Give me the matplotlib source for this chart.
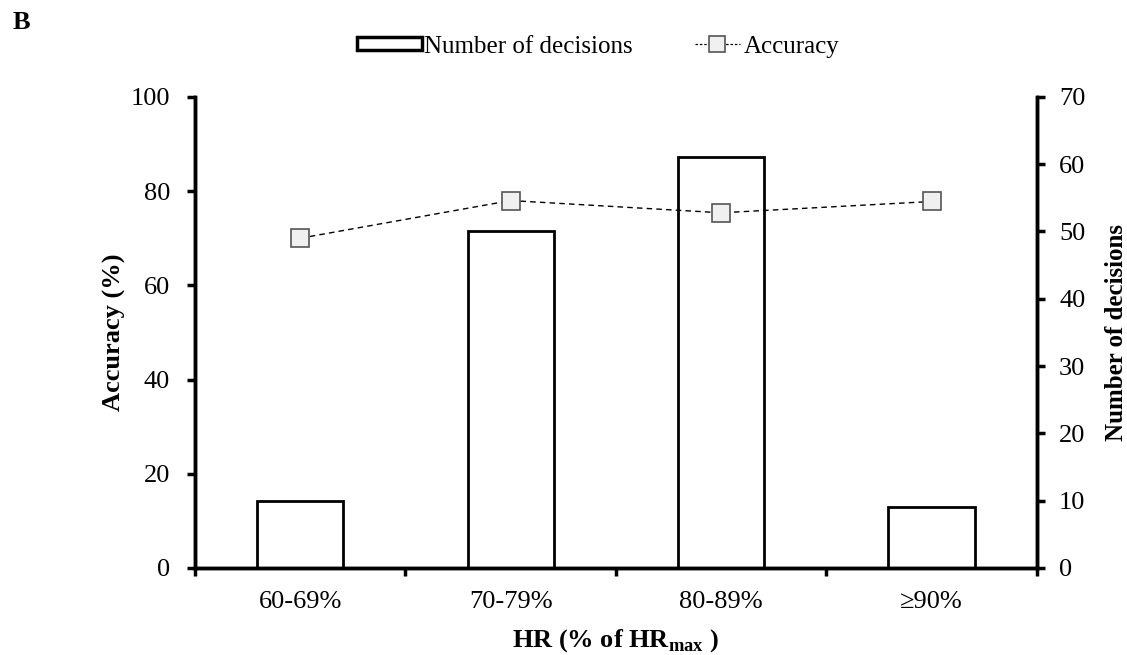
import matplotlib
matplotlib.use("Agg")
import matplotlib.pyplot as plt
from matplotlib.patches import Patch
from matplotlib.lines import Line2D
import numpy as np

plt.rcParams['font.family'] = ['Liberation Serif', 'DejaVu Serif']
plt.rcParams['mathtext.fontset'] = 'custom'
plt.rcParams['mathtext.rm'] = 'Liberation Serif'
plt.rcParams['mathtext.bf'] = 'Liberation Serif:bold'

categories = ['60-69%', '70-79%', '80-89%', '\u226590%']
decisions = [10, 50, 61, 9]
accuracy = [70.0, 78.0, 75.4, 77.8]

FS = 19

fig = plt.figure(figsize=(11.27, 6.55), dpi=100)
ax = fig.add_axes([0.173, 0.133, 0.747, 0.719])
ax2 = ax.twinx()

x = np.arange(len(categories))

# counts on the right axis, drawn behind the accuracy line
ax2.bar(x, decisions, width=0.41, facecolor='white', edgecolor='black', linewidth=2)
ax2.set_ylim(0, 70)
ax2.set_yticks(range(0, 71, 10))
ax2.set_ylabel('Number of decisions', fontsize=18, fontweight='bold', labelpad=14)

ax.set_zorder(ax2.get_zorder() + 1)
ax.patch.set_visible(False)
ax.plot(x, accuracy, linestyle='--', dashes=(4, 3), color='black', linewidth=1,
        marker='s', markersize=12.5, markerfacecolor='#f0f0f0',
        markeredgecolor='#555555', markeredgewidth=1.2)
ax.set_ylim(0, 100)
ax.set_yticks(range(0, 101, 20))
ax.set_xlim(-0.5, 3.5)
ax.set_ylabel('Accuracy (%)', fontsize=FS, fontweight='bold', labelpad=3)
ax.set_xlabel(r'HR (% of HR$_{\mathbf{max}}$ )', fontsize=FS, fontweight='bold', labelpad=10)

# category labels between tick marks at the boundaries
ax.set_xticks(np.arange(-0.5, 4, 1))
ax.set_xticklabels([])
ax.set_xticks(x, minor=True)
ax.set_xticklabels(categories, minor=True, fontsize=FS)
ax.tick_params(axis='x', which='minor', length=0, pad=17)
ax.tick_params(axis='x', which='major', direction='out', length=6, width=2.5)

ax.tick_params(axis='y', direction='out', length=6, width=2.5, labelsize=FS, pad=12)
ax2.tick_params(axis='y', direction='out', length=6, width=2.5, labelsize=FS, pad=10)

for a in (ax, ax2):
    a.spines['top'].set_visible(False)
    for s in ('left', 'right', 'bottom'):
        a.spines[s].set_linewidth(2.5)

# two single-entry legends so each handle keeps its own length
bar_handle = Patch(facecolor='white', edgecolor='black', linewidth=2.5)
line_handle = Line2D([], [], linestyle='--', dashes=(2, 1.5), color='black', linewidth=0.9,
                     marker='s', markersize=12, markerfacecolor='#f0f0f0',
                     markeredgecolor='#555555', markeredgewidth=1.2)
fig.legend([bar_handle], ['Number of decisions'], loc='center left',
           bbox_to_anchor=(0.3055, 0.929), frameon=False, fontsize=18,
           handlelength=2.6, handleheight=0.45, handletextpad=0.1, borderpad=0)
fig.legend([line_handle], ['Accuracy'], loc='center left',
           bbox_to_anchor=(0.6055, 0.929), frameon=False, fontsize=18,
           handlelength=1.8, handletextpad=0.15, borderpad=0)

fig.text(0.011, 0.965, 'B', fontsize=FS, fontweight='bold', va='center')

fig.savefig('out.png', dpi=100)
